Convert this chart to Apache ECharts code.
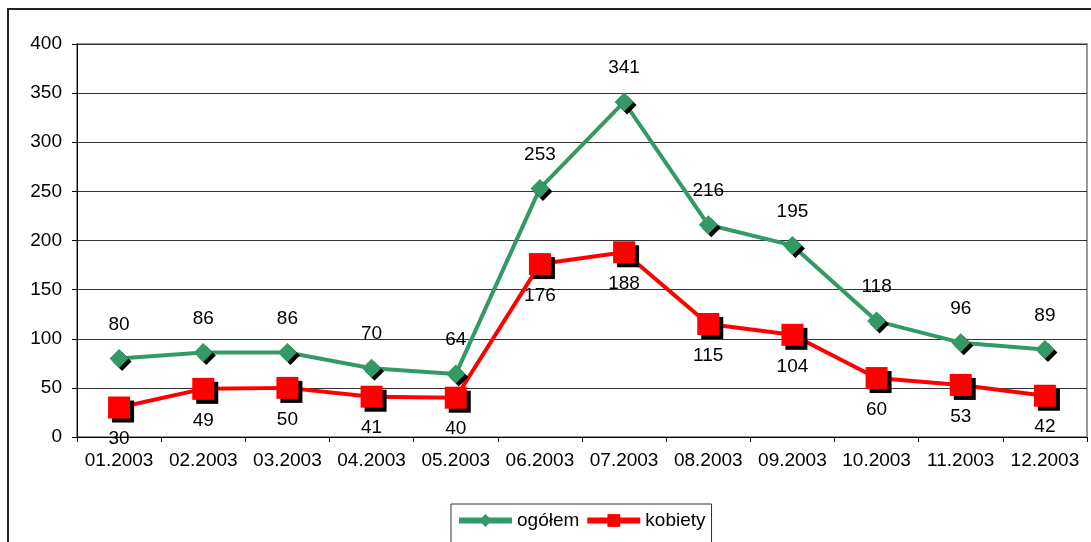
<!DOCTYPE html>
<html>
<head>
<meta charset="utf-8">
<script src="https://cdn.jsdelivr.net/npm/echarts@6/dist/echarts.min.js"></script>
<style>
  html, body { margin: 0; padding: 0; background: #fff; }
  #chart { width: 1091px; height: 542px; }
</style>
</head>
<body>
<div id="chart"></div>
<script>
// miesiące 2003
var months = ['01.2003', '02.2003', '03.2003', '04.2003', '05.2003', '06.2003',
  '07.2003', '08.2003', '09.2003', '10.2003', '11.2003', '12.2003']
var ogolem = [80, 86, 86, 70, 64, 253, 341, 216, 195, 118, 96, 89]
var kobiety = [30, 49, 50, 41, 40, 176, 188, 115, 104, 60, 53, 42]

var font = '"Liberation Sans", Arial, sans-serif'
var chart = echarts.init(document.getElementById('chart'))

chart.setOption({
  backgroundColor: '#fff',
  animation: false,
  textStyle: { fontFamily: font },
  graphic: [{
    type: 'rect',
    shape: { x: 8, y: 9, width: 1200, height: 800 },
    style: { fill: 'none', stroke: '#222', lineWidth: 2 },
    silent: true
  }],
  grid: {
    left: 77,
    right: 4,
    top: 44,
    bottom: 105,
    show: true,
    borderColor: '#999',
    borderWidth: 2
  },
  legend: {
    left: 451,
    top: 504,
    itemWidth: 53,
    itemHeight: 16,
    itemGap: 5,
    padding: [7, 6, 20, 5],
    borderColor: '#333',
    borderWidth: 1,
    lineStyle: { width: 6 },
    textStyle: { fontSize: 19, color: '#000', fontFamily: font },
    data: ['ogółem', 'kobiety']
  },
  xAxis: {
    type: 'category',
    data: months,
    boundaryGap: true,
    axisLine: { lineStyle: { color: '#000', width: 1 } },
    axisTick: { show: true, length: 5, lineStyle: { color: '#000' } },
    axisLabel: { color: '#000', fontSize: 19, margin: 14, interval: 0, fontFamily: font }
  },
  yAxis: {
    type: 'value',
    min: 0,
    max: 400,
    interval: 50,
    axisLine: { show: true, lineStyle: { color: '#000', width: 1 } },
    axisTick: { show: true, length: 5, lineStyle: { color: '#000' } },
    axisLabel: { color: '#000', fontSize: 19, margin: 15, fontFamily: font },
    splitLine: { lineStyle: { color: '#333', width: 1 } }
  },
  series: [{
    name: 'ogółem',
    type: 'line',
    data: ogolem,
    symbol: 'diamond',
    symbolSize: 19,
    lineStyle: { color: '#339966', width: 4 },
    itemStyle: {
      color: '#339966',
      shadowColor: '#000',
      shadowBlur: 0,
      shadowOffsetX: 3,
      shadowOffsetY: 3
    },
    label: {
      show: true,
      position: 'top',
      distance: 15,
      color: '#000',
      fontSize: 19,
      fontFamily: font
    },
    z: 3
  }, {
    name: 'kobiety',
    type: 'line',
    data: kobiety,
    symbol: 'rect',
    symbolSize: 22,
    lineStyle: { color: '#ff0000', width: 4 },
    itemStyle: {
      color: '#ff0000',
      shadowColor: '#000',
      shadowBlur: 0,
      shadowOffsetX: 4,
      shadowOffsetY: 4
    },
    label: {
      show: true,
      position: 'bottom',
      distance: 11,
      color: '#000',
      fontSize: 19,
      fontFamily: font
    },
    z: 2
  }]
})
</script>
</body>
</html>
